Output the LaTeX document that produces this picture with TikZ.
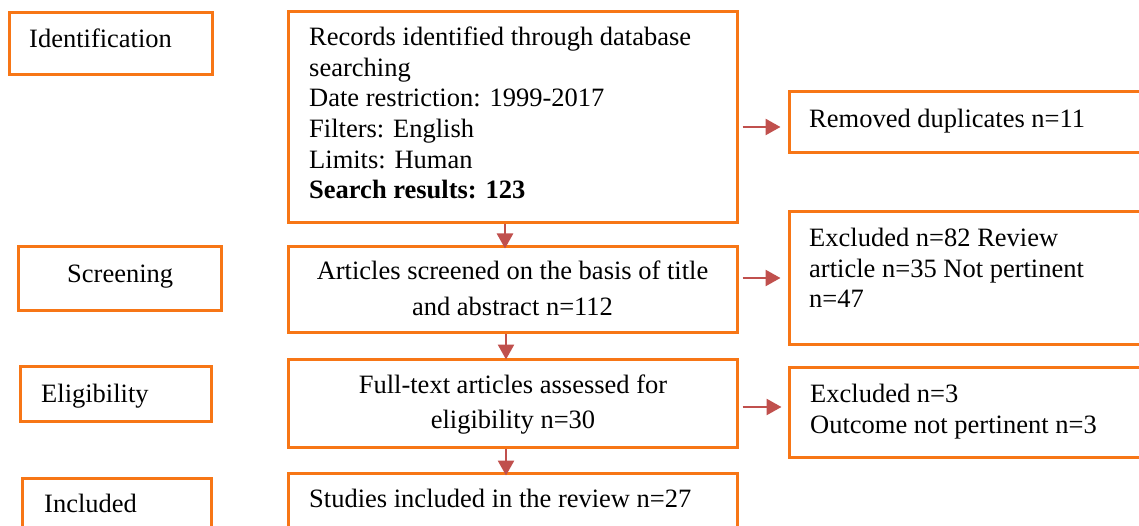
\documentclass[tikz,border=0pt]{standalone}
\usepackage{fontspec}
\setmainfont{Liberation Serif}
\usetikzlibrary{arrows.meta,calc}
\definecolor{boxorange}{RGB}{247,118,22}
\definecolor{arrred}{RGB}{192,80,77}
\begin{document}
\begin{tikzpicture}[x=1pt,y=-1pt,
  box/.style={draw=boxorange,line width=3pt,inner sep=0pt},
  txt/.style={font=\fontsize{26.5}{30.7}\selectfont,inner sep=0pt,align=left,anchor=base west},
  ctxt/.style={inner sep=0pt,align=center,anchor=base},
  arr/.style={draw=arrred,line width=2.6pt,-{Triangle[length=15pt,width=16pt]}}]
\useasboundingbox (0,0) rectangle (1139,526);
\clip (0,0) rectangle (1139,526);
% boxes
\node[box,minimum width=202.5pt,minimum height=62pt] (id) at (110.75,44) {};
\node[box,minimum width=449pt,minimum height=211pt] (m1) at (512.5,117.5) {};
\node[box,minimum width=371pt,minimum height=61pt] (dup) at (974.5,122.5) {};
\node[box,minimum width=203pt,minimum height=63pt] (scr) at (119.5,278.5) {};
\node[box,minimum width=449pt,minimum height=85pt] (m2) at (512.5,289.5) {};
\node[box,minimum width=371pt,minimum height=132pt] (exa) at (974.5,278) {};
\node[box,minimum width=191pt,minimum height=55pt] (eli) at (115.5,393.5) {};
\node[box,minimum width=449pt,minimum height=88pt] (m3) at (512.5,403) {};
\node[box,minimum width=371pt,minimum height=90pt] (exb) at (974.5,412) {};
\node[box,minimum width=189pt,minimum height=67pt] (inc) at (116.5,511.5) {};
\node[box,minimum width=449pt,minimum height=72pt] (m4) at (512.5,509) {};
% texts (base anchor = baseline of last line)
\node[txt] (tid) at (29,48) {Identification};
\node[txt] (tm1) at (309,199) {Records identified through database\\searching\\Date restriction: 1999-2017\\Filters: English\\Limits: Human\\\textbf{Search results: 123}};
\node[txt] (tdup) at (809,128) {Removed duplicates n=11};
\node[txt] (tscr) at (67,283) {Screening};
\node[ctxt,font=\fontsize{26.5}{36}\selectfont] (tm2) at (512.5,316) {Articles screened on the basis of title\\and abstract n=112};
\node[txt] (texa) at (809,308) {Excluded n=82 Review\\article n=35 Not pertinent\\n=47};
\node[txt] (teli) at (41,402) {Eligibility};
\node[ctxt,font=\fontsize{26.5}{35}\selectfont] (tm3) at (513,428) {Full-text articles assessed for\\eligibility n=30};
\node[txt,font=\fontsize{26.5}{31}\selectfont] (texb) at (810,433) {Excluded n=3\\Outcome not pertinent n=3};
\node[txt] (tinc) at (44,512) {Included};
\node[txt] (tm4) at (309,507) {Studies included in the review n=27};
% arrows
\draw[arr] ($(m1.south)+(-7.5,0)$) -- ($(m2.north)+(-7.5,3)$);
\draw[arr] ($(m2.south)+(-6.5,0)$) -- ($(m3.north)+(-6.5,2)$);
\draw[arr] ($(m3.south)+(-6.5,0)$) -- ($(m4.north)+(-6.5,4)$);
\draw[arr] ($(m1.east)+(4,9.5)$) -- ($(dup.west)+(-7,4.5)$);
\draw[arr] ($(m2.east)+(4,-11.5)$) -- ($(exa.west)+(-7,0)$);
\draw[arr] ($(m3.east)+(4,4)$) -- ($(exb.west)+(-6,-5)$);
\end{tikzpicture}
\end{document}
